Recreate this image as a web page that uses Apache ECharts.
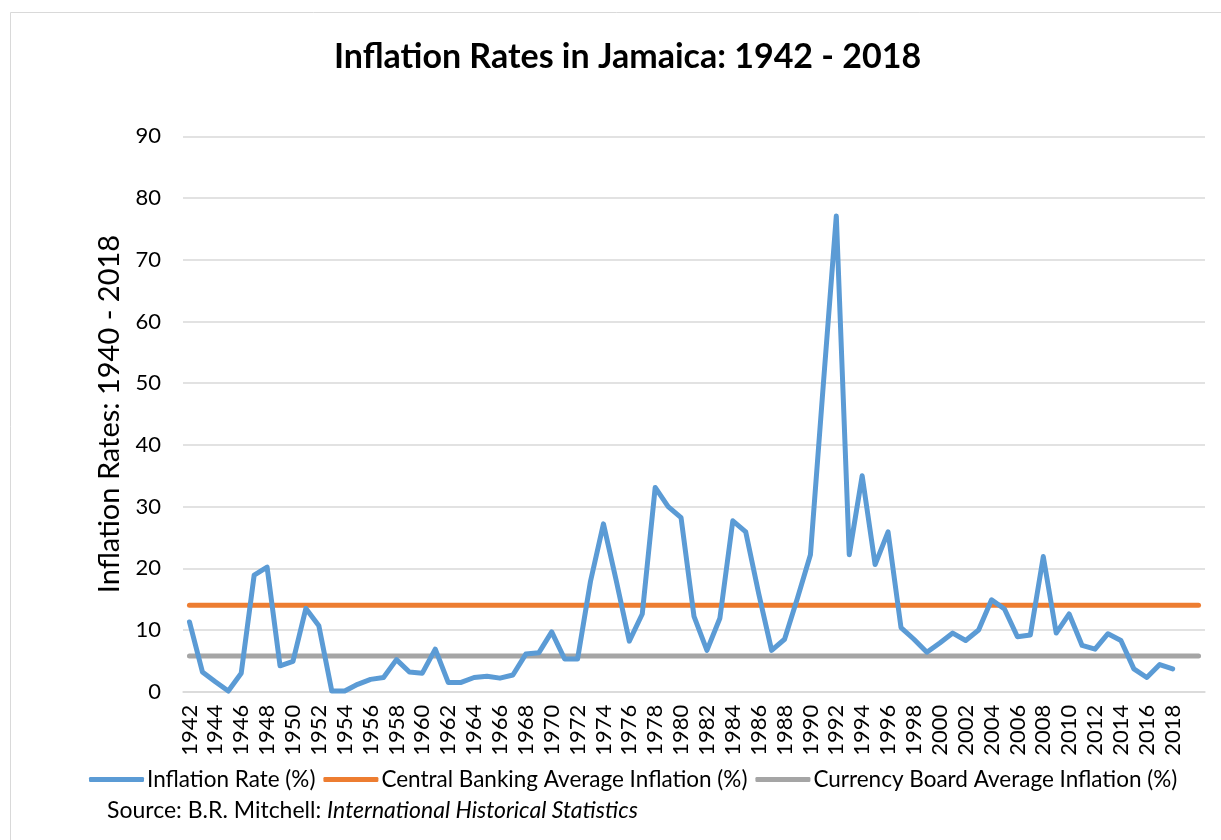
<!DOCTYPE html>
<html>
<head>
<meta charset="utf-8">
<title>Inflation Rates in Jamaica: 1942 - 2018</title>
<script src="https://cdn.jsdelivr.net/npm/echarts@6/dist/echarts.min.js"></script>
<style>
  html, body { margin: 0; padding: 0; background: #ffffff; }
  #chart { width: 1221px; height: 840px; }
</style>
</head>
<body>
<div id="chart"></div>
<script>
// Years on the category axis (two trailing years carry only the average lines)
const years = [];
for (let y = 1942; y <= 2020; y++) years.push(String(y));
const lastLabelledYear = 2018;

// Annual inflation rate (%), 1942 - 2018
const inflationRate = [
  11.3, 3.2, 1.6, 0.1, 3.0, 18.9, 20.2, 4.2, 4.9, 13.5,
  10.7, 0.1, 0.1, 1.2, 2.0, 2.3, 5.2, 3.2, 3.0, 6.9,
  1.5, 1.5, 2.3, 2.5, 2.2, 2.7, 6.1, 6.3, 9.7, 5.3,
  5.3, 17.9, 27.2, 17.9, 8.2, 12.6, 33.1, 30.0, 28.2, 12.2,
  6.7, 11.9, 27.7, 25.9, 15.9, 6.7, 8.5, 15.2, 22.2, 49.9,
  77.1, 22.2, 35.0, 20.6, 25.9, 10.4, 8.5, 6.4, 7.9, 9.5,
  8.3, 10.0, 14.9, 13.4, 8.9, 9.2, 21.9, 9.5, 12.6, 7.5,
  6.9, 9.4, 8.3, 3.7, 2.3, 4.4, 3.7
];

// Period averages (%)
const centralBankingAvg = 14.0;
const currencyBoardAvg = 5.8;

const yTicks = { min: 0, max: 90, interval: 10 };

const font = 'Lato, "Open Sans", "Liberation Sans", sans-serif';
const first = years[0];
const last = years[years.length - 1];

const chart = echarts.init(document.getElementById('chart'), null, { renderer: 'canvas' });

const lineStyleBase = { width: 5, cap: 'round', join: 'round' };

chart.setOption({
  backgroundColor: '#ffffff',
  animation: false,
  title: {
    text: 'Inflation Rates in Jamaica: 1942 - 2018',
    left: 329,
    top: 35,
    textStyle: { fontFamily: font, fontWeight: 'bold', fontSize: 34, color: '#000000' }
  },
  grid: { left: 183, right: 16, top: 136.4, bottom: 148.3, containLabel: false },
  legend: {
    bottom: 44,
    left: 84,
    icon: 'roundRect',
    itemWidth: 55,
    itemHeight: 5,
    itemGap: 8,
    textStyle: { fontFamily: font, fontSize: 22.5, color: '#000000', padding: [0, 0, 0, -2] },
    data: ['Inflation Rate (%)', 'Central Banking Average Inflation (%)', 'Currency Board Average Inflation (%)']
  },
  xAxis: {
    type: 'category',
    data: years,
    boundaryGap: true,
    axisLine: { lineStyle: { color: '#d9d9d9', width: 1.5 } },
    axisTick: { show: false },
    axisLabel: {
      interval: 1,
      rotate: 90,
      margin: 13,
      fontFamily: font,
      fontSize: 22,
      color: '#000000',
      formatter: v => (Number(v) <= lastLabelledYear ? v : '')
    }
  },
  yAxis: {
    type: 'value',
    min: yTicks.min,
    max: yTicks.max,
    interval: yTicks.interval,
    name: 'Inflation Rates: 1940 - 2018',
    nameLocation: 'middle',
    nameGap: 56,
    nameRotate: 90,
    nameTextStyle: { fontFamily: font, fontSize: 29, color: '#000000' },
    axisLine: { show: false },
    axisTick: { show: false },
    axisLabel: { fontFamily: font, fontSize: 22, color: '#000000', margin: 22 },
    splitLine: { lineStyle: { color: '#d9d9d9', width: 1.5 } }
  },
  series: [
    {
      name: 'Inflation Rate (%)',
      type: 'line',
      data: inflationRate,
      showSymbol: false,
      symbol: 'none',
      color: '#5B9BD5',
      lineStyle: Object.assign({ color: '#5B9BD5' }, lineStyleBase),
      z: 3
    },
    {
      name: 'Central Banking Average Inflation (%)',
      type: 'line',
      data: [[first, centralBankingAvg], [last, centralBankingAvg]],
      showSymbol: false,
      symbol: 'none',
      color: '#ED7D31',
      lineStyle: Object.assign({ color: '#ED7D31' }, lineStyleBase),
      z: 2
    },
    {
      name: 'Currency Board Average Inflation (%)',
      type: 'line',
      data: [[first, currencyBoardAvg], [last, currencyBoardAvg]],
      showSymbol: false,
      symbol: 'none',
      color: '#A5A5A5',
      lineStyle: Object.assign({ color: '#A5A5A5' }, lineStyleBase),
      z: 2
    }
  ],
  graphic: [
    {
      type: 'rect',
      shape: { x: 10.5, y: 12.5, width: 1400, height: 1000 },
      style: { fill: 'none', stroke: '#d9d9d9', lineWidth: 1 },
      silent: true,
      z: -1
    },
    {
      type: 'text',
      left: 107,
      top: 799,
      style: {
        text: '{n|Source: B.R. Mitchell: }{i|International Historical Statistics}',
        rich: {
          n: { fontFamily: font, fontSize: 23, fill: '#000000' },
          i: { fontFamily: font, fontSize: 23, fontStyle: 'italic', fill: '#000000' }
        }
      }
    }
  ]
});
</script>
</body>
</html>
